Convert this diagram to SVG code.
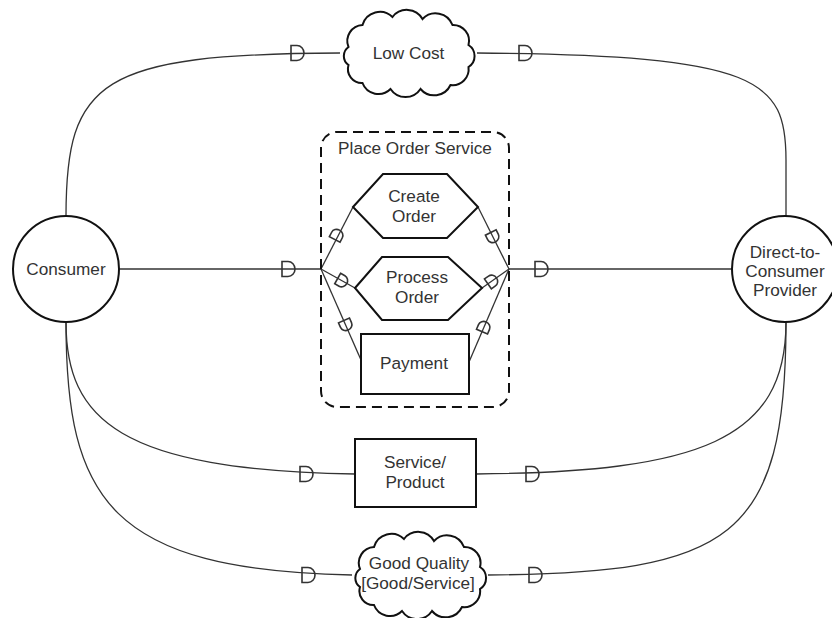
<svg xmlns="http://www.w3.org/2000/svg" xmlns:xlink="http://www.w3.org/1999/xlink" width="832" height="618" viewBox="0 0 832 618">
<style>
  .node { fill: #fff; stroke: #111; stroke-width: 2; }
  .conn { fill: none; stroke: #333; stroke-width: 1.3; }
  .mk { fill: none; stroke: #333; stroke-width: 1.6; }
  .box { fill: none; stroke: #111; stroke-width: 2; stroke-dasharray: 10 6; }
  text { font-family: "Liberation Sans", Arial, sans-serif; font-size: 17.2px; fill: #333; text-anchor: middle; }
</style>
<defs>
  <path id="cloud" d="M-60,-6 A16,16 0 0 1 -46,-28 A18,18 0 0 1 -16,-36 A18,18 0 0 1 14,-34 A18,18 0 0 1 44,-28 A16,16 0 0 1 60,-8 A13,13 0 0 1 60,14 A16,16 0 0 1 42,32 A18,18 0 0 1 12,36 A18,18 0 0 1 -18,36 A17,17 0 0 1 -46,30 A14,14 0 0 1 -60,12 A11,11 0 0 1 -60,-6 Z"/>
  <path id="d" class="mk" d="M-6,-7.5 H0 A7,7.5 0 0 1 0,7.5 H-6 Z"/>
  <path id="ds" class="mk" d="M-5,-6 H0 A5.5,6 0 0 1 0,6 H-5 Z"/>
</defs>

<g id="connectors">
  <path class="conn" d="M66,216 C66,80 100,54 340,53"/>
  <path class="conn" d="M477,53 C760,55 786,80 786,160 L786,216"/>
  <path class="conn" d="M119,269 H321"/>
  <path class="conn" d="M509,269 H733"/>
  <path class="conn" d="M66,322 C66,420 120,470 355,474"/>
  <path class="conn" d="M66,322 C66,500 110,570 352,575"/>
  <path class="conn" d="M476,474 C700,472 786,440 786,322"/>
  <path class="conn" d="M488,575 C730,573 786,540 786,322"/>
  <path class="conn" d="M321,269 L353,207"/>
  <path class="conn" d="M321,269 L355,288"/>
  <path class="conn" d="M321,269 L361,360"/>
  <path class="conn" d="M478,207 L509,269"/>
  <path class="conn" d="M482,288 L509,269"/>
  <path class="conn" d="M469,362 L509,269"/>
  <use href="#d" x="297" y="53"/>
  <use href="#d" x="525" y="53"/>
  <use href="#d" x="288" y="269"/>
  <use href="#d" x="541" y="269"/>
  <use href="#d" x="306" y="474"/>
  <use href="#d" x="532" y="474"/>
  <use href="#d" x="308" y="575"/>
  <use href="#d" x="535" y="575"/>
  <use href="#ds" transform="translate(337,235) rotate(-62.7)"/>
  <use href="#ds" transform="translate(342,281) rotate(29.2)"/>
  <use href="#ds" transform="translate(346,325) rotate(66.3)"/>
  <use href="#ds" transform="translate(493,237) rotate(63.4)"/>
  <use href="#ds" transform="translate(492,281) rotate(-35.1)"/>
  <use href="#ds" transform="translate(484,327) rotate(-66.7)"/>
</g>

<g id="consumer">
  <circle class="node" cx="66" cy="269" r="53"/>
  <text x="66" y="275">Consumer</text>
</g>
<g id="provider">
  <circle class="node" cx="785" cy="269" r="53"/>
  <text x="785" y="258">Direct-to-</text>
  <text x="785" y="277">Consumer</text>
  <text x="785" y="296">Provider</text>
</g>
<g id="low-cost">
  <use href="#cloud" class="node" x="408.5" y="53"/>
  <text x="408.5" y="59">Low Cost</text>
</g>
<g id="place-order-service">
  <rect class="box" x="321" y="132" width="188" height="275" rx="16"/>
  <text x="415" y="154">Place Order Service</text>
</g>
<g id="create-order">
  <polygon class="node" points="353,207 383,174 447,174 478,207 447,238 383,238"/>
  <text x="414" y="202">Create</text>
  <text x="414" y="222">Order</text>
</g>
<g id="process-order">
  <polygon class="node" points="355,288 382,257 448,257 482,288 448,320 382,320"/>
  <text x="417" y="283">Process</text>
  <text x="417" y="303">Order</text>
</g>
<g id="payment">
  <rect class="node" x="361" y="334" width="108" height="60"/>
  <text x="414" y="369">Payment</text>
</g>
<g id="service-product">
  <rect class="node" x="355" y="439" width="121" height="68"/>
  <text x="415" y="468">Service/</text>
  <text x="415" y="488">Product</text>
</g>
<g id="good-quality">
  <use href="#cloud" class="node" x="420" y="575"/>
  <text x="419" y="569">Good Quality</text>
  <text x="418" y="589">[Good/Service]</text>
</g>
</svg>
